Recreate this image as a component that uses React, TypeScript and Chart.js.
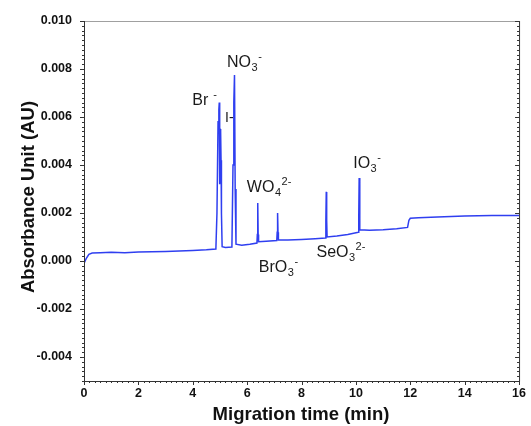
import React, { useEffect, useRef } from "react";
import { Chart, registerables } from "chart.js";

Chart.register(...registerables);

// Migration time (min)
const times = [
  0, 0.08, 0.18, 0.3, 0.6, 1.0, 1.5, 2.0, 2.5, 3.0, 3.5, 4.0, 4.5, 4.85,
  4.89, 4.93, 4.96, 4.975, 4.99, 5.01, 5.025, 5.04, 5.055, 5.08, 5.2, 5.44,
  5.48, 5.51, 5.535, 5.56, 5.59, 5.8, 6.1, 6.36, 6.375, 6.39, 6.405, 6.42,
  6.7, 7.09, 7.105, 7.12, 7.135, 7.15, 7.5, 8.0, 8.5, 8.88, 8.895, 8.91,
  8.925, 8.94, 9.3, 9.7, 10.09, 10.105, 10.12, 10.135, 10.15, 10.5, 11.0,
  11.5, 11.9, 11.95, 12.0, 12.3, 13.0, 14.0, 15.0, 16.0,
];
// Absorbance (AU)
const absorbance = [
  -0.0001, 0.0001, 0.00028, 0.00033, 0.00034, 0.00036, 0.00034, 0.00037,
  0.00039, 0.0004, 0.00042, 0.00044, 0.00047, 0.0005,
  0.002, 0.0058, 0.0063, 0.0066, 0.0032, 0.0055, 0.0054, 0.0042, 0.002,
  0.0006, 0.00056, 0.00058,
  0.004, 0.0066, 0.00775, 0.003, 0.0007, 0.00066, 0.0007, 0.00075, 0.0011,
  0.00242, 0.0011, 0.0008,
  0.00082, 0.00085, 0.0012, 0.002, 0.0012, 0.00088, 0.00088, 0.0009,
  0.00093, 0.00096, 0.0017, 0.00288, 0.0017, 0.001, 0.00104, 0.0011,
  0.0012, 0.0019, 0.00346, 0.0019, 0.0013, 0.00128, 0.0013, 0.00134,
  0.0014, 0.0017, 0.00178, 0.0018, 0.00183, 0.00187, 0.0019, 0.0019,
];

const xTicks = [0, 2, 4, 6, 8, 10, 12, 14, 16];
const yTicks = [-0.004, -0.002, 0, 0.002, 0.004, 0.006, 0.008, 0.01];

// Peak labels: markup "_x" = subscript char, "^..." = superscript rest
const peakLabels = ["Br ^-", "I-", "NO_3^-", "WO_4^2-", "BrO_3^-", "SeO_3^2-", "IO_3^-"];
const labelX = [3.98, 5.19, 5.26, 5.99, 6.43, 8.55, 9.9];
const labelY = [0.0065, 0.0058, 0.00808, 0.00288, -0.00046, 0.00017, 0.003875];
const labelSize = [16, 14, 16, 16, 16, 16, 16];

const FONT = "'Liberation Sans', Arial, sans-serif";

const axesPlugin = {
  id: "axesPlugin",
  afterDraw(chart: any) {
    const ctx = chart.ctx;
    const { left, right, top, bottom } = chart.chartArea;
    const xs = chart.scales.x;
    const ys = chart.scales.y;
    ctx.save();
    // top border (light)
    ctx.strokeStyle = "#a0a0a0";
    ctx.lineWidth = 1;
    ctx.beginPath();
    ctx.moveTo(left, top + 0.5);
    ctx.lineTo(right, top + 0.5);
    ctx.stroke();
    ctx.strokeStyle = "#333";
    ctx.beginPath();
    ctx.moveTo(left + 0.5, top);
    ctx.lineTo(left + 0.5, bottom + 0.5);
    ctx.lineTo(right + 0.5, bottom + 0.5);
    ctx.lineTo(right + 0.5, top);
    ctx.stroke();
    // y ticks
    ctx.beginPath();
    for (let i = -25; i <= 50; i++) {
      const v = i * 0.0002;
      const y = Math.round(ys.getPixelForValue(v)) + 0.5;
      const major = i % 10 === 0;
      const len = major ? 4 : 2;
      ctx.moveTo(left, y);
      ctx.lineTo(left - len, y);
      ctx.moveTo(right, y);
      ctx.lineTo(right - len, y);
    }
    // x ticks
    for (let i = 0; i <= 80; i++) {
      const v = i * 0.2;
      const x = Math.round(xs.getPixelForValue(v)) + 0.5;
      const major = i % 10 === 0;
      const len = major ? 4 : 2;
      ctx.moveTo(x, bottom);
      ctx.lineTo(x, bottom + len);
    }
    ctx.stroke();

    // axis titles
    ctx.fillStyle = "#111";
    ctx.font = `bold 18.5px ${FONT}`;
    ctx.textAlign = "center";
    ctx.textBaseline = "middle";
    ctx.fillText("Migration time (min)", 301, 415);
    ctx.save();
    ctx.translate(29, 197);
    ctx.rotate(-Math.PI / 2);
    ctx.fillText("Absorbance Unit (AU)", 0, 0);
    ctx.restore();

    // peak labels
    ctx.fillStyle = "#1a1a1a";
    ctx.textAlign = "left";
    ctx.textBaseline = "alphabetic";
    peakLabels.forEach((lab, i) => {
      let x = xs.getPixelForValue(labelX[i]);
      const y = ys.getPixelForValue(labelY[i]);
      const size = labelSize[i];
      const small = Math.round(size * 0.68);
      let idx = 0;
      let mainStr = "";
      while (idx < lab.length && lab[idx] !== "_" && lab[idx] !== "^") {
        mainStr += lab[idx];
        idx++;
      }
      ctx.font = `${size}px ${FONT}`;
      ctx.fillText(mainStr, x, y);
      x += ctx.measureText(mainStr).width;
      if (lab[idx] === "_") {
        const s = lab[idx + 1];
        ctx.font = `${small}px ${FONT}`;
        ctx.fillText(s, x + 0.5, y + 4);
        x += ctx.measureText(s).width + 0.5;
        idx += 2;
      }
      if (lab[idx] === "^") {
        const s = lab.slice(idx + 1);
        ctx.font = `${small}px ${FONT}`;
        ctx.fillText(s, x + 0.5, y - 7);
      }
    });
    ctx.restore();
  },
};

export default function App() {
  const ref = useRef<HTMLCanvasElement | null>(null);
  useEffect(() => {
    document.body.style.margin = "0";
    const canvas = ref.current;
    if (!canvas) return;
    const points = times.map((t, i) => ({ x: t, y: absorbance[i] }));
    const tickFont = { family: FONT, weight: "bold" as const, size: 12.5 };
    const chart = new Chart(canvas, {
      type: "line",
      data: {
        datasets: [
          {
            data: points,
            borderColor: "#2f3ff0",
            borderWidth: 1.5,
            pointRadius: 0,
            tension: 0,
            fill: false,
          },
        ],
      },
      options: {
        animation: false,
        responsive: false,
        maintainAspectRatio: false,
        layout: { padding: { top: 21, right: 8, left: 0, bottom: 0 } },
        plugins: { legend: { display: false }, tooltip: { enabled: false } },
        scales: {
          x: {
            type: "linear",
            min: 0,
            max: 16,
            afterBuildTicks: (s: any) => {
              s.ticks = xTicks.map((v) => ({ value: v }));
            },
            afterFit: (s: any) => {
              s.height = 45;
            },
            grid: { display: false, drawTicks: false },
            border: { display: false },
            ticks: {
              font: tickFont,
              color: "#111",
              padding: 5,
              maxRotation: 0,
              autoSkip: false,
              callback: (v: any) => String(v),
            },
          },
          y: {
            type: "linear",
            min: -0.005,
            max: 0.01,
            afterBuildTicks: (s: any) => {
              s.ticks = yTicks.map((v) => ({ value: v }));
            },
            afterFit: (s: any) => {
              s.width = 84;
            },
            grid: { display: false, drawTicks: false },
            border: { display: false },
            ticks: {
              font: tickFont,
              color: "#111",
              padding: 12,
              autoSkip: false,
              callback: (v: any) => Number(v).toFixed(3),
            },
          },
        },
      },
      plugins: [axesPlugin],
    });
    return () => chart.destroy();
  }, []);
  return (
    <div style={{ position: "absolute", left: 0, top: 0, width: 531, height: 426, background: "#fff" }}>
      <canvas ref={ref} width={531} height={426} style={{ display: "block" }} />
    </div>
  );
}
